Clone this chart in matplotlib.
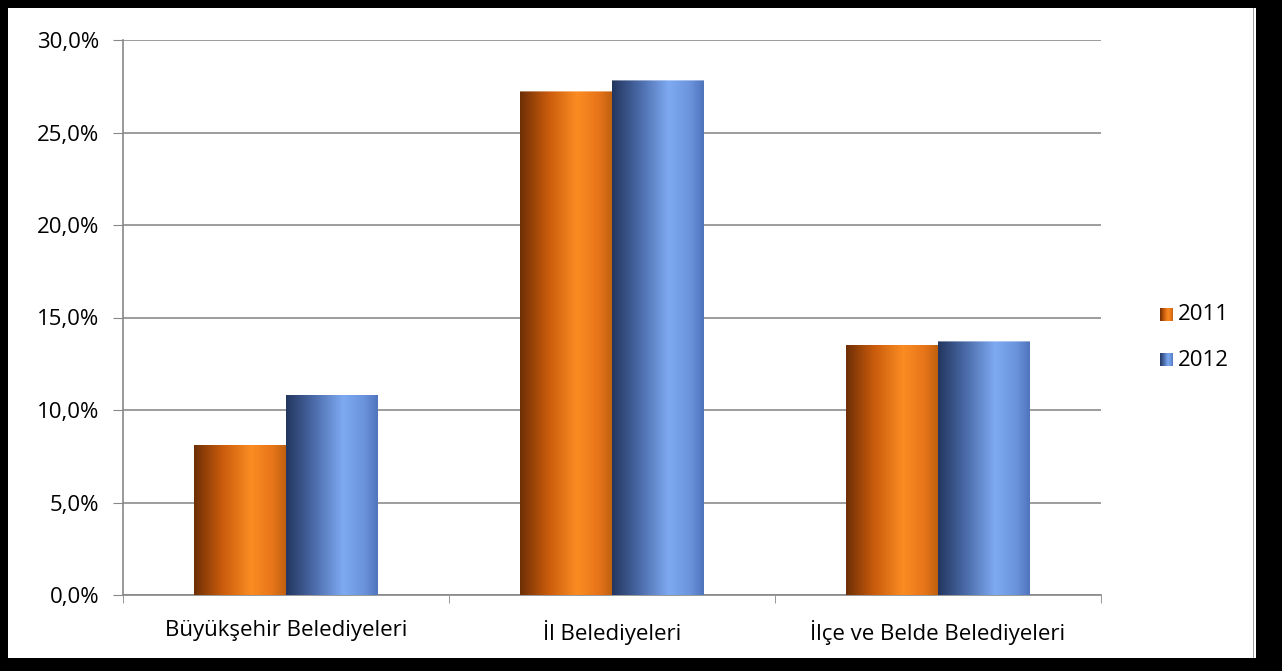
import matplotlib
matplotlib.use("Agg")
import matplotlib.pyplot as plt
import numpy as np
from matplotlib.patches import Rectangle
from matplotlib.colors import LinearSegmentedColormap
from matplotlib.ticker import FuncFormatter

categories = ["Büyükşehir Belediyeleri", "İl Belediyeleri", "İlçe ve Belde Belediyeleri"]
years = ["2011", "2012"]
values_2011 = [8.1, 27.2, 13.5]
values_2012 = [10.8, 27.8, 13.7]

orange_cmap = LinearSegmentedColormap.from_list(
    "orange", [(0, "#6e2f05"), (0.3, "#c85a0c"), (0.62, "#fb8c22"), (0.85, "#e8761a"), (1, "#c0600e")])
blue_cmap = LinearSegmentedColormap.from_list(
    "blue", [(0, "#23365f"), (0.3, "#4a6aa8"), (0.62, "#7eaaf2"), (0.85, "#6a94dc"), (1, "#4f74bc")])

plt.rcParams['font.family'] = ['Open Sans', 'DejaVu Sans']
fs = 16

fig = plt.figure(figsize=(12.82, 6.71), dpi=100)
ax = fig.add_axes([123 / 1282, 1 - 595 / 671, (1101 - 123) / 1282, (595 - 40) / 671])

x = np.arange(len(categories))
width = 0.282
grad = np.linspace(0, 1, 256).reshape(1, -1)


def cylinder_bars(xs, vals, cmap):
    for xc, v in zip(xs, vals):
        left = xc - width / 2
        im = ax.imshow(grad, cmap=cmap, aspect='auto', extent=[left, left + width, 0, v],
                       zorder=3, interpolation='bicubic')
        r = Rectangle((left, 0), width, v, transform=ax.transData, facecolor='none', edgecolor='none')
        ax.add_patch(r)
        im.set_clip_path(r)
        # lighter rim at the top of the cylinder
        ax.imshow(grad, cmap=cmap, aspect='auto', extent=[left, left + width, v - 0.3, v],
                  zorder=4, alpha=0.6, interpolation='bicubic')


cylinder_bars(x - width / 2, values_2011, orange_cmap)
cylinder_bars(x + width / 2, values_2012, blue_cmap)

ax.set_xlim(-0.5, 2.5)
ax.set_ylim(0, 30)
ax.set_yticks(np.arange(0, 31, 5))
ax.yaxis.set_major_formatter(FuncFormatter(lambda v, p: ("%.1f%%" % v).replace(".", ",")))
ax.set_xticks(x)
ax.set_xticklabels(categories)
ax.set_xticks([-0.5, 0.5, 1.5, 2.5], minor=True)
ax.tick_params(axis='x', which='major', length=0, pad=18, labelsize=fs)
ax.tick_params(axis='x', which='minor', length=6, color='#888888', direction='out')
ax.tick_params(axis='y', length=7, color='#888888', labelsize=fs, pad=10)
ax.grid(axis='y', color='#8c8c8c', linewidth=1.2, zorder=0)
ax.set_axisbelow(True)
for s in ['top', 'right']:
    ax.spines[s].set_visible(False)
ax.spines['left'].set_color('#888888')
ax.spines['bottom'].set_color('#888888')
ax.spines['left'].set_linewidth(1.2)
ax.spines['bottom'].set_linewidth(1.2)

# legend with gradient swatches
lx = 1160 / 1282
for i, (yr, cmap) in enumerate(zip(years, [orange_cmap, blue_cmap])):
    yc = 1 - (315 + 45 * i) / 671
    sw = fig.add_axes([lx, yc - 6 / 671, 13 / 1282, 13 / 671])
    sw.imshow(grad, cmap=cmap, aspect='auto', interpolation='bicubic')
    sw.set_axis_off()
    fig.text(lx + 18 / 1282, yc, yr, fontsize=fs, va='center', ha='left')

# outer frame
fig.patches.append(Rectangle((1253 / 1282, 10 / 671), 1 / 1282, 655 / 671, transform=fig.transFigure,
                             facecolor='#a0a0a0', edgecolor='none'))
fig.patches.append(Rectangle((0, 0), 1, 13 / 671, transform=fig.transFigure, facecolor='black', edgecolor='none'))
fig.patches.append(Rectangle((0, 1 - 8 / 671), 1, 8 / 671, transform=fig.transFigure, facecolor='black', edgecolor='none'))
fig.patches.append(Rectangle((0, 0), 8 / 1282, 1, transform=fig.transFigure, facecolor='black', edgecolor='none'))
fig.patches.append(Rectangle((1256 / 1282, 0), 26 / 1282, 1, transform=fig.transFigure, facecolor='black', edgecolor='none'))

fig.savefig("out.png", dpi=100)
